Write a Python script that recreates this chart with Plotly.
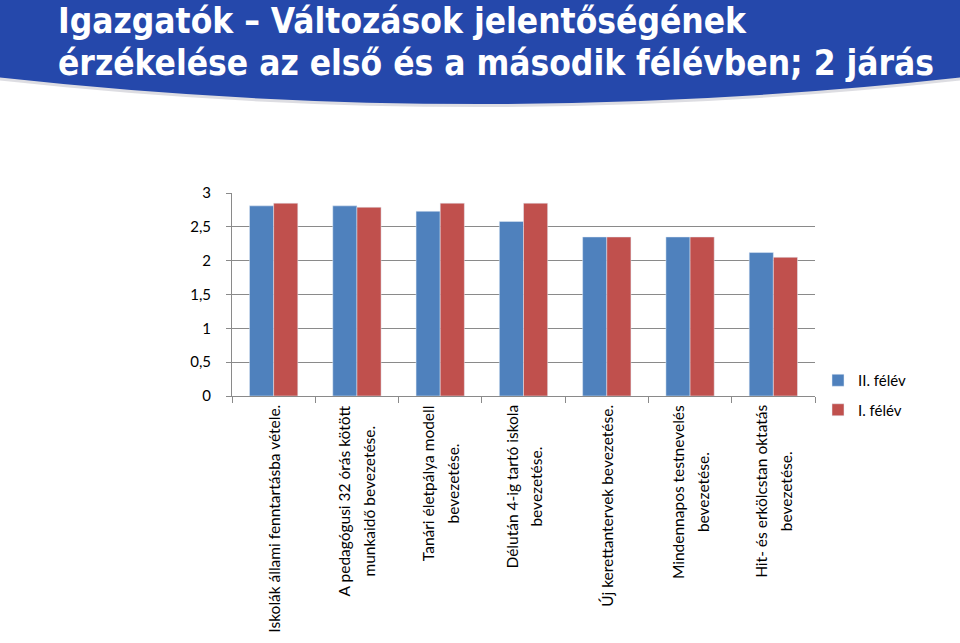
import plotly.graph_objects as go

categories = [
    "Iskolák állami fenntartásba vétele.",
    "A pedagógusi 32 órás kötött<br>munkaidő bevezetése.",
    "Tanári életpálya modell<br>bevezetése.",
    "Délután 4-ig tartó iskola<br>bevezetése.",
    "Új kerettantervek bevezetése.",
    "Mindennapos testnevelés<br>bevezetése.",
    "Hit- és erkölcstan oktatás<br>bevezetése.",
]
cat_ids = ["c1", "c2", "c3", "c4", "c5", "c6", "c7"]
series_names = ["II. félév", "I. félév"]
values_II = [2.81, 2.81, 2.73, 2.58, 2.35, 2.35, 2.12]
values_I = [2.85, 2.79, 2.85, 2.85, 2.35, 2.35, 2.05]
y_tickvals = [0, 0.5, 1, 1.5, 2, 2.5, 3]
y_ticktext = ["0", "0,5", "1", "1,5", "2", "2,5", "3"]
title_lines = ["Igazgatók – Változások jelentőségének",
               "érzékelése az első és a második félévben; 2 járás"]

BLUE = "#4F81BD"
RED = "#C0504D"
GRID = "#8a8a8a"
FONT = "Lato, 'Open Sans', sans-serif"

# layout geometry (pixels)
W, H = 960, 643
L, R, T, B = 232, 145, 193, 247
pw = W - L - R
ph = H - T - B


def px(x):
    return (x - L) / pw


def py(y):
    return (H - B - y) / ph


fig = go.Figure()
fig.add_trace(go.Bar(x=cat_ids, y=values_II, name=series_names[0],
                     marker_color=BLUE, legendgroup="a"))
fig.add_trace(go.Bar(x=cat_ids, y=values_I, name=series_names[1],
                     marker_color=RED, legendgroup="b"))


def banner_path(dy):
    return (f"M {px(-5)},{py(-5)} L {px(965)},{py(-5)} L {px(965)},{py(77+dy)} "
            f"Q {px(480)},{py(131+dy)} {px(-5)},{py(77+dy)} Z")


shapes = [
    dict(type="path", xref="paper", yref="paper", path=banner_path(3),
         fillcolor="rgba(120,120,140,0.25)", line=dict(width=0), layer="below"),
    dict(type="path", xref="paper", yref="paper", path=banner_path(0),
         fillcolor="#2548AB", line=dict(width=0), layer="below"),
]

annotations = []
TFONT = "'Liberation Sans Narrow', 'DejaVu Sans Condensed', sans-serif"
annotations.append(dict(text=f"<b>{title_lines[0]}</b>", xref="paper", yref="paper",
                        x=px(56), y=py(21), xanchor="left", yanchor="middle",
                        showarrow=False, font=dict(family=TFONT, size=35, color="white")))
annotations.append(dict(text=f"<b>{title_lines[1]}</b>", xref="paper", yref="paper",
                        x=px(56), y=py(63), xanchor="left", yanchor="middle",
                        showarrow=False, font=dict(family=TFONT, size=35, color="white")))

for cid, lab in zip(cat_ids, categories):
    parts = lab.split("<br>")
    txt = "<br>".join(f"<span style='font-size:15.5px'>{p}</span>" for p in parts)
    annotations.append(dict(text=txt, x=cid, xref="x", yref="paper", y=py(403),
                            yanchor="top", xanchor="center", textangle=-90,
                            align="center", showarrow=False,
                            font=dict(family=FONT, size=19, color="#000000")))

fig.update_layout(
    width=W, height=H,
    margin=dict(l=L, r=R, t=T, b=B, pad=0),
    paper_bgcolor="white", plot_bgcolor="white",
    barmode="group", bargap=0.42, bargroupgap=0,
    shapes=shapes, annotations=annotations,
    legend=dict(x=px(818), y=py(364), xanchor="left", yanchor="top",
                font=dict(family=FONT, size=15, color="#000000"),
                traceorder="grouped", tracegroupgap=7, itemwidth=30,
                bgcolor="rgba(0,0,0,0)"),
    showlegend=True,
)
fig.update_xaxes(showticklabels=False, ticks="outside", ticklen=6, tickcolor=GRID,
                 tickson="boundaries", showline=True, linecolor=GRID, linewidth=1,
                 showgrid=False, range=[-0.5, 6.5])
fig.update_yaxes(range=[0, 3], tickvals=y_tickvals, ticktext=y_ticktext,
                 showgrid=True, gridcolor=GRID, gridwidth=1, ticks="outside",
                 ticklen=5, tickcolor=GRID, showline=True, linecolor=GRID,
                 zeroline=False, ticklabelstandoff=12,
                 tickfont=dict(family=FONT, size=15, color="#000000"))

fig.write_html("out.html", config={"displayModeBar": False},
               post_script="document.body.style.margin='0';")
